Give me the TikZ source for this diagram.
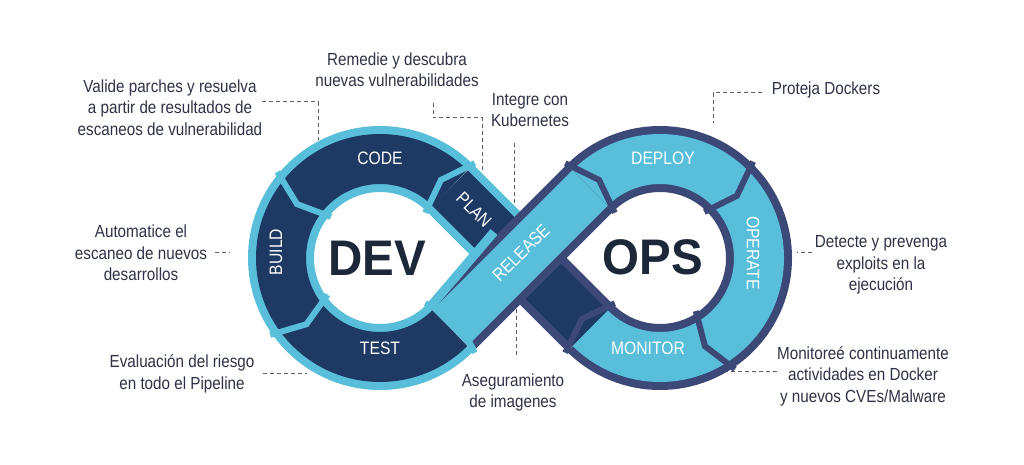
\documentclass[tikz,border=0pt]{standalone}
\usepackage{fontspec}
\setmainfont{Liberation Sans}
\newfontfamily\notefont[FakeStretch=0.87]{Liberation Sans}
\newfontfamily\headfont[FakeStretch=0.95]{Liberation Sans}
\usetikzlibrary{calc}
\definecolor{devnavy}{HTML}{1E3A64}
\definecolor{ringsky}{HTML}{58BEDA}
\definecolor{rimnavy}{HTML}{3C4878}
\definecolor{notegray}{HTML}{2D3246}
\definecolor{headink}{HTML}{1C283A}
\definecolor{leadgray}{HTML}{5A5F6B}
\newcommand{\SegmentCut}[4]% #1=ring centre, #2=angle of the cut, #3=angle of its tip, #4=colour
{\draw[line width=6pt, #4] ($(#1)+(#2:64pt)$) -- ($(#1)+(#3:99pt)$) -- ($(#1)+(#2:134pt)$);
}

\begin{document}
\begin{tikzpicture}[x=1pt, y=1pt,
    devrim/.style={line width=66pt, draw=ringsky},
    devband/.style={line width=50pt, draw=devnavy},
    opsrim/.style={line width=66pt, draw=rimnavy},
    opsband/.style={line width=50pt, draw=ringsky},
    leader/.style={draw=leadgray, line width=1pt, dash pattern=on 4pt off 3pt},
    note/.style={font=\notefont\fontsize{17.5}{21.5}\selectfont, text=notegray, align=center},
    steplabel/.style={font=\notefont\fontsize{18}{18}\selectfont, text=white},
    bigword/.style={font=\headfont\bfseries\fontsize{50}{50}\selectfont, text=headink}]
  \useasboundingbox (0,0) rectangle (1024,465);
  \coordinate (OL) at (380,207);
  \coordinate (OR) at (660,207);
  \coordinate (X)  at (520,207);
  \coordinate (LU) at (450,277);
  \coordinate (LD) at (450,137);
  \coordinate (RU) at (590,277);
  \coordinate (RD) at (590,137);
  % leader ends
  \coordinate (code-pt)    at (318,325);
  \coordinate (plan-bend)  at (482,347);
  \coordinate (plan-pt)    at (482,295);
  \coordinate (rel-top)    at (514,262);
  \coordinate (deploy-pt)  at (713,342);
  \coordinate (operate-pt) at (797,212);
  \coordinate (monitor-pt) at (723,93);
  \coordinate (build-pt)   at (230,212);
  \coordinate (test-pt)    at (307,91);
  \coordinate (release-pt) at (516,165);
  % notes
  \node[note] (valide) at (170,357.5) {Valide parches y resuelva\\a partir de resultados de\\escaneos de vulnerabilidad};
  \node[note] (remedie) at (397,395) {Remedie y descubra\\nuevas vulnerabilidades};
  \node[note] (kuber) at (530,355) {Integre con\\Kubernetes};
  \node[note] (proteja) at (826,375) {Proteja Dockers};
  \node[note] (detecte) at (881,200) {Detecte y prevenga\\exploits en la\\ejecución};
  \node[note] (monitoree) at (863,89) {Monitoreé continuamente\\actividades en Docker\\y nuevos CVEs/Malware};
  \node[note] (automatice) at (141,212) {Automatice el\\escaneo de nuevos\\desarrollos};
  \node[note] (evaluacion) at (182,91) {Evaluación del riesgo\\en todo el Pipeline};
  \node[note] (aseguramiento) at (513,72.5) {Aseguramiento\\de imagenes};
  % leaders
  \draw[leader] ([shift={(92,5.5)}]valide.center) -| (code-pt);
  \draw[leader] ([shift={(36,-33)}]remedie.center) |- (plan-bend) -- (plan-pt);
  \draw[leader] ([shift={(-16,-33)}]kuber.center) -- (rel-top);
  \draw[leader] ([shift={(-64,-3)}]proteja.center) -| (deploy-pt);
  \draw[leader] ([shift={(-69,12)}]detecte.center) -- (operate-pt);
  \draw[leader] ([shift={(-86,4)}]monitoree.center) -- (monitor-pt);
  \draw[leader] ([shift={(74,0)}]automatice.center) -- (build-pt);
  \draw[leader] ([shift={(81,0)}]evaluacion.center) -- (test-pt);
  \draw[leader] ([shift={(3,37.5)}]aseguramiento.center) -- (release-pt);
  % rims
  \draw[devrim] (LU) arc[start angle=45, end angle=315, radius=99pt];
  \draw[opsrim] (RU) arc[start angle=135, end angle=-135, radius=99pt];
  \draw[devrim] (LU) -- (X);
  \draw[opsrim] (X) -- (RD);
  % bands
  \draw[devband] (LU) arc[start angle=45, end angle=315, radius=99pt];
  \draw[opsband] (RU) arc[start angle=135, end angle=-135, radius=99pt];
  \draw[devband] (LU) -- (RD);
  % release on top
  \draw[opsrim] (LD) -- (RU);
  \draw[opsband] (LD) -- (RU);
  \draw[line width=9pt, ringsky] ($(LD)+(-20.5,20.5)$) -- ($(X)+(-26,26)$);
  % segment cuts
  \SegmentCut{OL}{45}{52}{ringsky}
  \SegmentCut{OL}{140}{147}{ringsky}
  \SegmentCut{OL}{215}{222}{ringsky}
  \SegmentCut{OL}{315}{322}{ringsky}
  \SegmentCut{OR}{135}{128}{rimnavy}
  \SegmentCut{OR}{46}{39}{rimnavy}
  \SegmentCut{OR}{-56}{-63}{rimnavy}
  \SegmentCut{OR}{-135}{-142}{rimnavy}
  % step labels
  \node[steplabel] (code) at (380,307) {CODE};
  \node[steplabel, rotate=90] (build) at (276,213) {BUILD};
  \node[steplabel] (test) at (380,117) {TEST};
  \node[steplabel, rotate=-45] (plan) at (474,255) {PLAN};
  \node[steplabel, rotate=45] (release) at (521,212) {RELEASE};
  \node[steplabel] (deploy) at (663,307) {DEPLOY};
  \node[steplabel, rotate=-90] (operate) at (753,212) {OPERATE};
  \node[steplabel] (monitor) at (648,117) {MONITOR};
  \node[bigword] (dev) at (377,207) {DEV};
  \node[bigword] (ops) at (653,208) {OPS};
\end{tikzpicture}
\end{document}
